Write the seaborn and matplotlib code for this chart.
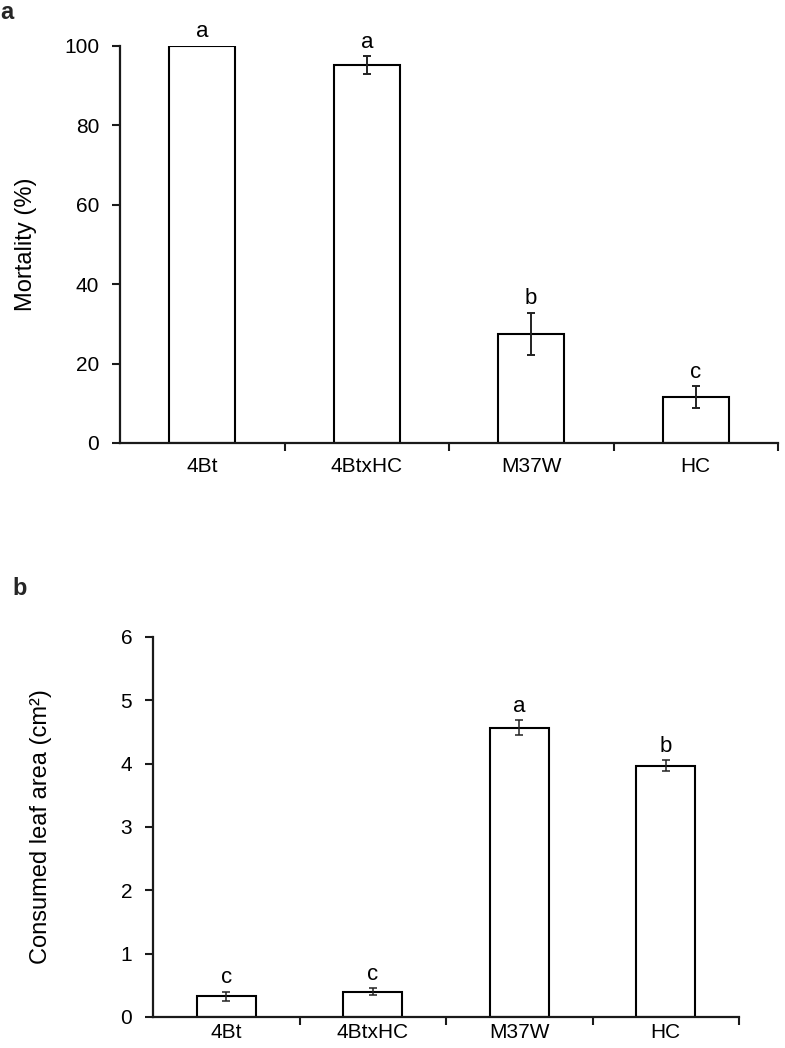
import matplotlib
matplotlib.use("Agg")
import matplotlib.pyplot as plt
from matplotlib.ticker import FixedLocator
import seaborn as sns
import pandas as pd
import numpy as np

genotypes = ["4Bt", "4BtxHC", "M37W", "HC"]
mortality = [100.0, 95.2, 27.5, 11.5]
mortality_se = [0.0, 2.2, 5.3, 2.8]
mortality_letters = ["a", "a", "b", "c"]
leaf_area = [0.33, 0.40, 4.57, 3.97]
leaf_area_se = [0.07, 0.06, 0.12, 0.09]
leaf_area_letters = ["c", "c", "a", "b"]

sns.set_theme(style="ticks")
plt.rcParams["font.family"] = ["Liberation Sans", "DejaVu Sans"]

W, H = 785, 1048
fig = plt.figure(figsize=(W / 100, H / 100), dpi=100)


def px_rect(x0, y_top, x1, y_bot):
    return [x0 / W, 1 - y_bot / H, (x1 - x0) / W, (y_bot - y_top) / H]


ax1 = fig.add_axes(px_rect(120, 45.7, 778, 443))
ax2 = fig.add_axes(px_rect(153, 637, 739, 1017))


def panel(ax, vals, se, letters, ylim, yticks, ylabel, width, label_x,
          capsize, elw, xpad):
    df = pd.DataFrame({"genotype": genotypes, "value": vals})
    sns.barplot(data=df, x="genotype", y="value", order=genotypes,
                color="white", saturation=1, edgecolor="black",
                linewidth=1.5, width=width, errorbar=None, ax=ax)
    x = np.arange(len(genotypes))
    v = np.array(vals)
    s = np.array(se)
    m = s > 0
    ax.errorbar(x[m], v[m], yerr=s[m], fmt="none", ecolor="#222222",
                elinewidth=elw, capsize=capsize, capthick=elw, zorder=5)
    for i, (val, err, let) in enumerate(zip(vals, se, letters)):
        ax.annotate(let, xy=(i, val + err), xytext=(0, 6),
                    textcoords="offset points", ha="center", va="baseline",
                    fontsize=16, color="black", annotation_clip=False)
    ax.set_xlim(-0.5, len(genotypes) - 0.5)
    ax.set_ylim(*ylim)
    ax.set_yticks(yticks)
    ax.set_xlabel("")
    ax.set_ylabel(ylabel, fontsize=17, color="black")
    pos = ax.get_position()
    ax.yaxis.set_label_coords(label_x / W, pos.y0 + pos.height / 2,
                              transform=fig.transFigure)
    for side in ["top", "right"]:
        ax.spines[side].set_visible(False)
    for side in ["left", "bottom"]:
        ax.spines[side].set_linewidth(1.6)
        ax.spines[side].set_color("#1a1a1a")
    ax.xaxis.set_minor_locator(FixedLocator(np.arange(0.5, len(genotypes), 1.0)))
    ax.tick_params(axis="x", which="major", length=0, pad=xpad,
                   labelsize=15, labelcolor="black")
    ax.tick_params(axis="x", which="minor", length=6, width=1.5,
                   direction="out", color="#1a1a1a")
    ax.tick_params(axis="y", which="major", length=6, width=1.5,
                   direction="out", pad=9, labelsize=15,
                   labelcolor="black", color="#1a1a1a")


panel(ax1, mortality, mortality_se, mortality_letters, (0, 100),
      [0, 20, 40, 60, 80, 100], "Mortality (%)", 0.4, 37, 3, 1.4, 10)
panel(ax2, leaf_area, leaf_area_se, leaf_area_letters, (0, 6),
      [0, 1, 2, 3, 4, 5, 6], "Consumed leaf area (cm²)", 0.4, 52, 3, 1.1, 4)

fig.text(0 / W, 0.999, "a", fontsize=17, fontweight="bold",
         va="top", ha="left")
fig.text(12 / W, 1 - 595 / H, "b", fontsize=17, fontweight="bold",
         va="baseline", ha="left")

fig.savefig("out.png", dpi=100)
